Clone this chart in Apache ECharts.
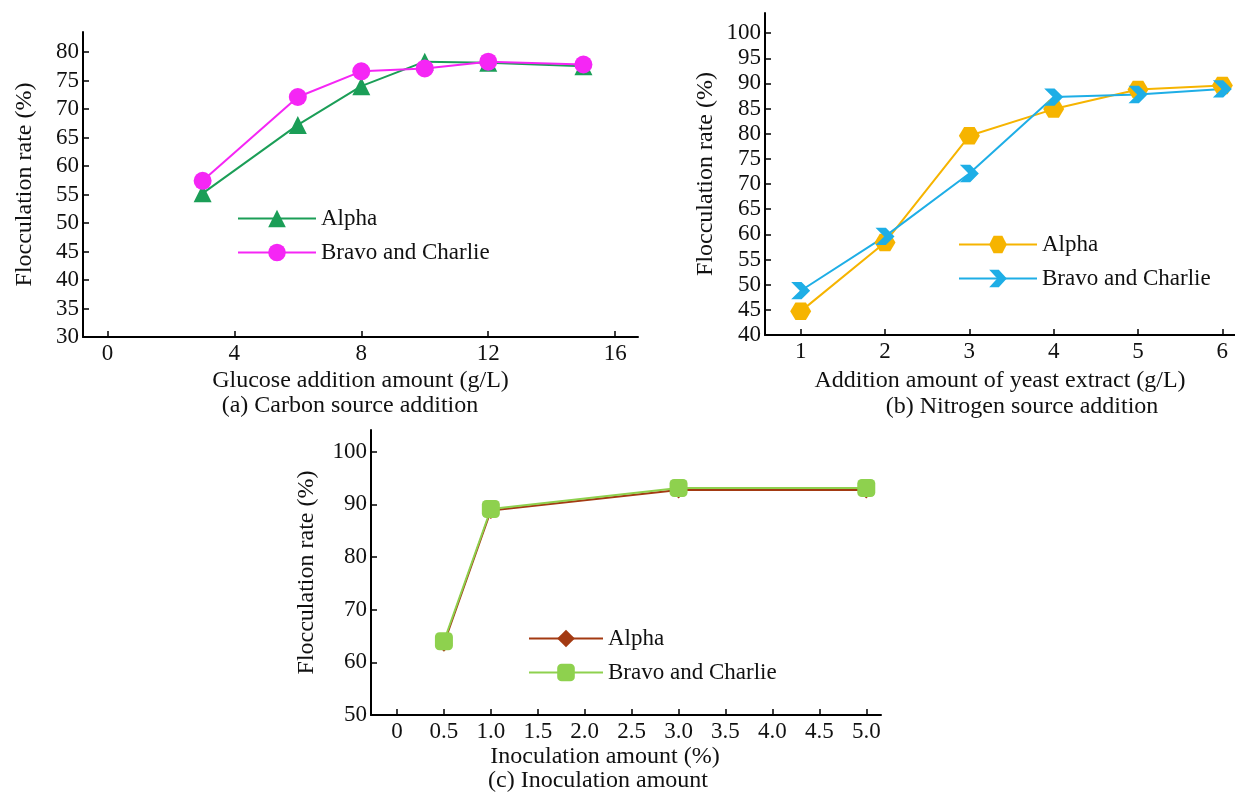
<!DOCTYPE html>
<html>
<head>
<meta charset="utf-8">
<script src="https://cdn.jsdelivr.net/npm/echarts@6/dist/echarts.min.js"></script>
<style>
  html, body { margin: 0; padding: 0; background: #fff; }
  #chart { width: 1235px; height: 795px; }
</style>
</head>
<body>
<div id="chart"></div>
<script>
// (a) carbon source
const glucoseX = [3, 6, 8, 10, 12, 15]
const glucoseAlpha = [55.2, 67.2, 74.0, 78.3, 78.1, 77.5]
const glucoseBravo = [57.4, 72.1, 76.6, 77.1, 78.3, 77.8]
const glucoseTicks = [0, 4, 8, 12, 16]
const rateTicksA = [30, 35, 40, 45, 50, 55, 60, 65, 70, 75, 80]

// (b) nitrogen source
const yeastX = [1, 2, 3, 4, 5, 6]
const yeastAlpha = [44.7, 58.4, 79.6, 84.9, 88.8, 89.6]
const yeastBravo = [48.8, 59.6, 72.1, 87.3, 87.8, 88.9]
const yeastTicks = [1, 2, 3, 4, 5, 6]
const rateTicksB = [40, 45, 50, 55, 60, 65, 70, 75, 80, 85, 90, 95, 100]

// (c) inoculation amount
const inocX = [0.5, 1.0, 3.0, 5.0]
const inocAlpha = [63.6, 88.8, 92.7, 92.7]
const inocBravo = [64.0, 89.1, 93.1, 93.1]
const inocTicks = [0, 0.5, 1.0, 1.5, 2.0, 2.5, 3.0, 3.5, 4.0, 4.5, 5.0]
const rateTicksC = [50, 60, 70, 80, 90, 100]

const font = 'Liberation Serif'
const txt = { fontFamily: font, fontSize: 23, color: '#111' }
const nameTxt = { fontFamily: font, fontSize: 24, color: '#111' }
const hexagon = 'path://M3,0 L9,0 L12,5 L9,10 L3,10 L0,5 Z'
const chevron = 'path://M0,0 L6,0 L11,5 L6,10 L0,10 L5,5 Z'

function pairs(xs, ys) {
  return xs.map((x, i) => [x, ys[i]])
}

function xAxis(idx, min, max, ticks, name, gap, shift, fmt) {
  return {
    type: 'value', gridIndex: idx, min, max,
    name, nameLocation: 'middle', nameGap: gap,
    nameTextStyle: Object.assign({ padding: [0, shift, 0, 0] }, nameTxt),
    axisLine: { onZero: false, lineStyle: { color: '#000', width: 2 } },
    axisTick: { inside: true, length: 6, customValues: ticks, lineStyle: { color: '#000', width: 1.5 } },
    axisLabel: Object.assign({ customValues: ticks, margin: 5, formatter: fmt || (v => String(v)) }, txt),
    splitLine: { show: false }
  }
}

function yAxis(idx, min, max, ticks, gap) {
  return {
    type: 'value', gridIndex: idx, min, max,
    name: 'Flocculation rate (%)', nameLocation: 'middle', nameGap: gap,
    nameTextStyle: nameTxt,
    axisLine: { onZero: false, lineStyle: { color: '#000', width: 2 } },
    axisTick: { inside: true, length: 6, customValues: ticks, lineStyle: { color: '#000', width: 1.5 } },
    axisLabel: Object.assign({ customValues: ticks, margin: 4 }, txt),
    splitLine: { show: false }
  }
}

function line(name, idx, data, color, symbol, size) {
  return {
    name, type: 'line', xAxisIndex: idx, yAxisIndex: idx,
    data, symbol, symbolSize: size, symbolKeepAspect: true,
    lineStyle: { color, width: 2 },
    itemStyle: { color },
    animation: false
  }
}

function legend(left, top, names, width) {
  return {
    orient: 'vertical', left, top, padding: 0,
    itemWidth: width, itemHeight: 22, itemGap: 11,
    data: names, textStyle: txt, selectedMode: false,
    formatter: n => n.split('|')[1]
  }
}

function subtitle(text, x, y) {
  return { text, left: x, top: y, padding: 0, textAlign: 'center', textStyle: Object.assign({ fontWeight: 'normal' }, nameTxt) }
}

const chart = echarts.init(document.getElementById('chart'))
chart.setOption({
  backgroundColor: '#fff',
  title: [
    subtitle('(a) Carbon source addition', 350, 394),
    subtitle('(b) Nitrogen source addition', 1022, 395),
    subtitle('(c) Inoculation amount', 598, 769)
  ],
  grid: [
    { left: 83, top: 32, width: 555, height: 305 },
    { left: 765, top: 13, width: 470, height: 322 },
    { left: 371, top: 430, width: 510, height: 285 }
  ],
  xAxis: [
    xAxis(0, -0.77, 16.72, glucoseTicks, 'Glucose addition amount (g/L)', 32, 0),
    xAxis(1, 0.577, 6.15, yeastTicks, 'Addition amount of yeast extract (g/L)', 34, 0),
    xAxis(2, -0.277, 5.157, inocTicks, 'Inoculation amount (%)', 30, 42, v => (v === 0 ? '0' : v.toFixed(1)))
  ],
  yAxis: [
    yAxis(0, 30, 83.5, rateTicksA, 46),
    yAxis(1, 40, 104, rateTicksB, 47),
    yAxis(2, 50, 104.1, rateTicksC, 52)
  ],
  legend: [
    legend(237, 207, ['a|Alpha', 'a|Bravo and Charlie'], 78),
    legend(958, 233, ['b|Alpha', 'b|Bravo and Charlie'], 78),
    legend(528, 627, ['c|Alpha', 'c|Bravo and Charlie'], 74)
  ],
  series: [
    line('a|Alpha', 0, pairs(glucoseX, glucoseAlpha), '#1b9e57', 'triangle', 18),
    line('a|Bravo and Charlie', 0, pairs(glucoseX, glucoseBravo), '#f526f5', 'circle', 18),
    line('b|Alpha', 1, pairs(yeastX, yeastAlpha), '#f6b400', hexagon, 21),
    line('b|Bravo and Charlie', 1, pairs(yeastX, yeastBravo), '#1eaee6', chevron, 19),
    line('c|Alpha', 2, pairs(inocX, inocAlpha), '#a33a12', 'diamond', 17),
    line('c|Bravo and Charlie', 2, pairs(inocX, inocBravo), '#8ed14e', 'roundRect', 18)
  ]
})
</script>
</body>
</html>
